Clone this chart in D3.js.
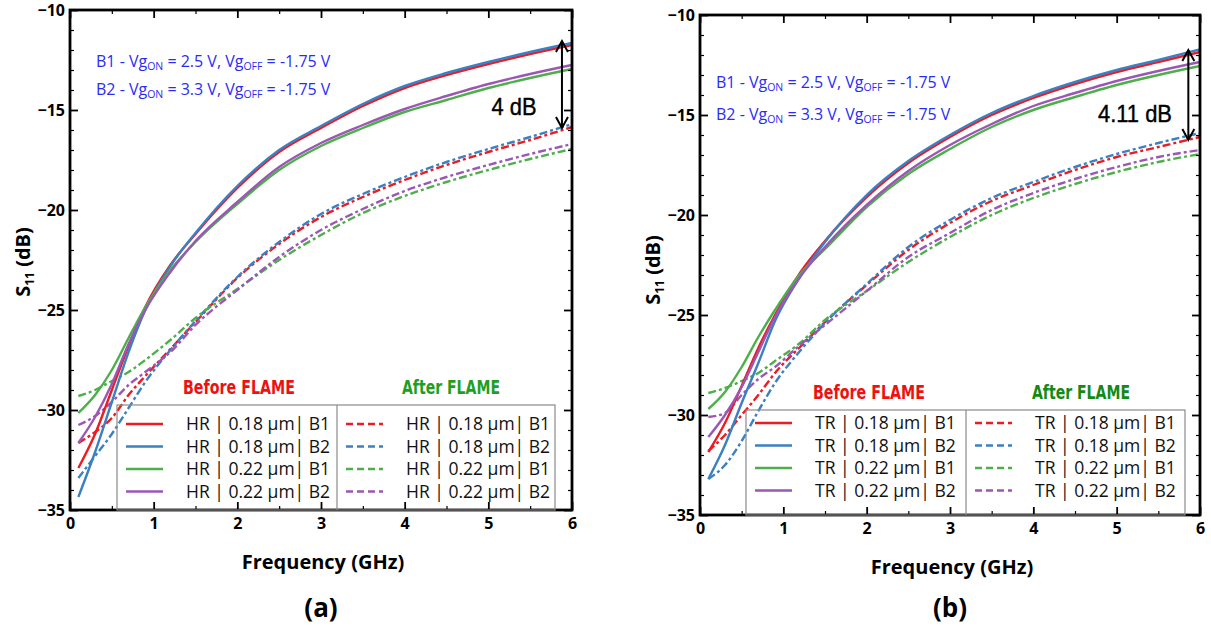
<!DOCTYPE html>
<html><head><meta charset="utf-8">
<script src="https://cdn.jsdelivr.net/npm/d3@7"></script>
<style>
html,body{margin:0;padding:0;background:#fff;}
svg{display:block;}
</style></head>
<body>
<svg id="chart" width="1211" height="628"></svg>
<script>
// ---------------- DATA ----------------
const FREQ_GHZ = [0.1, 0.3, 0.5, 0.7, 0.9, 1.2, 1.5, 2.0, 2.5, 3.0, 3.5, 4.0, 4.5, 5.0, 5.5, 6.0];
const X_TICKS = [0, 1, 2, 3, 4, 5, 6];
const Y_TICKS = [-35, -30, -25, -20, -15, -10];

const NAMES_A = ["HR | 0.18 µm| B1", "HR | 0.18 µm| B2", "HR | 0.22 µm| B1", "HR | 0.22 µm| B2"];
const NAMES_B = ["TR | 0.18 µm| B1", "TR | 0.18 µm| B2", "TR | 0.22 µm| B1", "TR | 0.22 µm| B2"];

// Panel (a) HR – before FLAME (solid)
const A_BEFORE_018_B1 = [-32.9, -31.2, -29.0, -26.8, -24.85, -22.75, -21.2, -18.9, -17.1, -15.9, -14.8, -13.9, -13.25, -12.7, -12.2, -11.75];
const A_BEFORE_018_B2 = [-34.35, -32.1, -29.6, -27.1, -25.0, -22.8, -21.15, -18.8, -17.0, -15.8, -14.7, -13.8, -13.15, -12.6, -12.1, -11.65];
const A_BEFORE_022_B1 = [-30.15, -29.25, -28.0, -26.4, -24.85, -23.0, -21.6, -19.7, -18.0, -16.8, -15.9, -15.1, -14.5, -13.9, -13.4, -12.95];
const A_BEFORE_022_B2 = [-31.65, -30.35, -28.7, -26.7, -25.0, -23.1, -21.55, -19.6, -17.85, -16.65, -15.75, -14.95, -14.3, -13.7, -13.2, -12.75];
// Panel (a) HR – after FLAME (dashed)
const A_AFTER_018_B1 = [-31.65, -31.1, -30.4, -29.25, -28.3, -26.95, -25.6, -23.4, -21.7, -20.35, -19.35, -18.5, -17.75, -17.1, -16.5, -15.85];
const A_AFTER_018_B2 = [-33.4, -32.3, -31.2, -29.9, -28.6, -27.0, -25.55, -23.35, -21.6, -20.2, -19.2, -18.35, -17.6, -16.95, -16.35, -15.7];
const A_AFTER_022_B1 = [-29.3, -29.0, -28.55, -28.1, -27.5, -26.5, -25.4, -23.95, -22.5, -21.25, -20.15, -19.3, -18.6, -18.0, -17.45, -16.95];
const A_AFTER_022_B2 = [-30.75, -30.3, -29.6, -28.75, -28.1, -27.1, -25.75, -24.0, -22.35, -21.0, -19.95, -19.05, -18.35, -17.75, -17.2, -16.7];

// Panel (b) TR – before FLAME (solid)
const B_BEFORE_018_B1 = [-31.85, -30.4, -28.55, -26.65, -25.0, -22.9, -21.3, -19.1, -17.4, -16.1, -15.0, -14.15, -13.45, -12.85, -12.35, -11.85];
const B_BEFORE_018_B2 = [-33.2, -31.5, -29.4, -27.4, -25.3, -23.1, -21.35, -19.0, -17.3, -16.0, -14.9, -14.05, -13.35, -12.75, -12.25, -11.72];
const B_BEFORE_022_B1 = [-29.7, -28.85, -27.6, -26.1, -24.75, -22.95, -21.7, -19.6, -17.95, -16.7, -15.6, -14.75, -14.1, -13.5, -13.0, -12.55];
const B_BEFORE_022_B2 = [-31.1, -30.0, -28.6, -26.85, -25.1, -23.1, -21.6, -19.5, -17.8, -16.5, -15.45, -14.55, -13.9, -13.3, -12.8, -12.35];
// Panel (b) TR – after FLAME (dashed)
const B_AFTER_018_B1 = [-31.8, -31.0, -30.0, -29.0, -27.9, -26.6, -25.35, -23.5, -21.75, -20.4, -19.3, -18.5, -17.75, -17.1, -16.6, -16.1];
const B_AFTER_018_B2 = [-33.2, -32.5, -31.3, -29.8, -28.4, -26.8, -25.4, -23.45, -21.6, -20.25, -19.15, -18.35, -17.6, -16.95, -16.4, -15.9];
const B_AFTER_022_B1 = [-28.9, -28.65, -28.3, -27.9, -27.3, -26.4, -25.25, -23.8, -22.35, -21.1, -20.0, -19.15, -18.45, -17.85, -17.35, -16.95];
const B_AFTER_022_B2 = [-30.1, -29.9, -29.0, -28.2, -27.6, -26.5, -25.5, -23.8, -22.1, -20.9, -19.75, -18.9, -18.2, -17.6, -17.1, -16.75];

const LEGEND_TITLES = ["Before FLAME", "After FLAME"];
const BIAS_B1 = ["B1 - Vg", "ON", " = 2.5 V, Vg", "OFF", " = -1.75 V"];
const BIAS_B2 = ["B2 - Vg", "ON", " = 3.3 V, Vg", "OFF", " = -1.75 V"];
const DIFF_LABELS = ["4 dB", "4.11 dB"];
const DIFF_RANGE_A = [-11.55, -15.9];   // arrow span (dB)
const DIFF_RANGE_B = [-11.75, -16.25];  // arrow span (dB)
const PANEL_LABELS = ["(a)", "(b)"];
const X_TITLE = "Frequency (GHz)";

// ---------------- STYLE ----------------
const COLORS = ["#ec1c24", "#3b80c2", "#4daf4a", "#9b57b4"];
const DASH = "8,3,3,3";
const FONT = "'Open Sans', Lato, sans-serif";

const svg = d3.select("#chart");

function drawPanel(p) {
  const x = d3.scaleLinear().domain([0, 6]).range([p.x0, p.x1]);
  const y = d3.scaleLinear().domain([-35, -10]).range([p.y1, p.y0]);
  const g = svg.append("g");

  const line = d3.line().x(d => x(d[0])).y(d => y(d[1])).curve(d3.curveMonotoneX);

  p.after.forEach((vals, i) => {
    g.append("path").datum(FREQ_GHZ.map((f, k) => [f, vals[k]]))
      .attr("d", line).attr("fill", "none").attr("stroke", COLORS[i])
      .attr("stroke-width", 2.4).attr("stroke-dasharray", DASH);
  });
  p.before.forEach((vals, i) => {
    g.append("path").datum(FREQ_GHZ.map((f, k) => [f, vals[k]]))
      .attr("d", line).attr("fill", "none").attr("stroke", COLORS[i])
      .attr("stroke-width", 2.4);
  });

  const yMinor = d3.range(-35, -9, 1).filter(v => v % 5 !== 0);
  const xMinor = d3.range(0.5, 6, 1);

  const tickStyle = sel => {
    sel.select(".domain").remove();
    sel.selectAll("line").attr("stroke", "#000").attr("stroke-width", 1.8);
  };
  const labelStyle = s => s.selectAll("text").attr("font-family", FONT).attr("font-weight", 700)
      .attr("font-size", 16).attr("fill", "#000");

  g.append("g").attr("transform", `translate(${p.x0},0)`)
    .call(d3.axisLeft(y).tickValues(Y_TICKS).tickSize(-8).tickPadding(5).tickFormat(d3.format("d")))
    .call(tickStyle).call(labelStyle);
  g.append("g").attr("transform", `translate(${p.x0},0)`)
    .call(d3.axisLeft(y).tickValues(yMinor).tickSize(-4).tickFormat(""))
    .call(tickStyle).call(s => s.selectAll("line").attr("stroke-width", 1.2));
  g.append("g").attr("transform", `translate(${p.x1},0)`)
    .call(d3.axisRight(y).tickValues(Y_TICKS).tickSize(-8).tickFormat(""))
    .call(tickStyle);
  g.append("g").attr("transform", `translate(${p.x1},0)`)
    .call(d3.axisRight(y).tickValues(yMinor).tickSize(-4).tickFormat(""))
    .call(tickStyle).call(s => s.selectAll("line").attr("stroke-width", 1.2));
  g.append("g").attr("transform", `translate(0,${p.y1})`)
    .call(d3.axisBottom(x).tickValues(X_TICKS).tickSize(-8).tickPadding(8).tickFormat(d3.format("d")))
    .call(tickStyle).call(labelStyle);
  g.append("g").attr("transform", `translate(0,${p.y1})`)
    .call(d3.axisBottom(x).tickValues(xMinor).tickSize(-4).tickFormat(""))
    .call(tickStyle).call(s => s.selectAll("line").attr("stroke-width", 1.2));
  g.append("g").attr("transform", `translate(0,${p.y0})`)
    .call(d3.axisTop(x).tickValues(X_TICKS).tickSize(-8).tickFormat(""))
    .call(tickStyle);
  g.append("g").attr("transform", `translate(0,${p.y0})`)
    .call(d3.axisTop(x).tickValues(xMinor).tickSize(-4).tickFormat(""))
    .call(tickStyle).call(s => s.selectAll("line").attr("stroke-width", 1.2));

  g.append("rect").attr("x", p.x0).attr("y", p.y0)
    .attr("width", p.x1 - p.x0).attr("height", p.y1 - p.y0)
    .attr("fill", "none").attr("stroke", "#000").attr("stroke-width", 2.8);

  g.append("text").attr("x", (p.x0 + p.x1) / 2 + 2).attr("y", p.y1 + 59)
    .attr("text-anchor", "middle").attr("font-family", FONT).attr("font-weight", 700)
    .attr("font-size", 20).attr("fill", "#000").text(X_TITLE);
  const yt = g.append("text")
    .attr("transform", `translate(${p.x0 - 40},${p.yLabelCy}) rotate(-90)`)
    .attr("text-anchor", "middle").attr("font-family", FONT).attr("font-weight", 700)
    .attr("font-size", 20).attr("fill", "#000");
  yt.append("tspan").text("S");
  yt.append("tspan").attr("font-size", 12).attr("dy", 4).text("11");
  yt.append("tspan").attr("dy", -4).text(" (dB)");

  g.append("text").attr("x", (p.x0 + p.x1) / 2).attr("y", 617)
    .attr("text-anchor", "middle").attr("font-family", FONT).attr("font-weight", 700)
    .attr("font-size", 26).attr("fill", "#000").text(p.panelLabel);

  [BIAS_B1, BIAS_B2].forEach((parts, r) => {
    const t = g.append("text").attr("x", p.noteX).attr("y", p.noteY[r])
      .attr("font-family", FONT).attr("font-size", 16).attr("fill", "#2b2bf5");
    parts.forEach((s, k) => {
      const ts = t.append("tspan").text(s);
      if (k % 2 === 1) ts.attr("font-size", 10.5).attr("dy", 3);
      else if (k > 0) ts.attr("dy", -3);
    });
  });

  const ax = x(p.arrowF), yA = y(p.diffRange[0]), yB = y(p.diffRange[1]);
  g.append("line").attr("x1", ax).attr("x2", ax).attr("y1", yA).attr("y2", yB)
    .attr("stroke", "#000").attr("stroke-width", 2);
  g.append("polyline").attr("points", `${ax - 6},${yA + 11} ${ax},${yA} ${ax + 6},${yA + 11}`)
    .attr("fill", "none").attr("stroke", "#000").attr("stroke-width", 2);
  g.append("polyline").attr("points", `${ax - 6},${yB - 11} ${ax},${yB} ${ax + 6},${yB - 11}`)
    .attr("fill", "none").attr("stroke", "#000").attr("stroke-width", 2);
  g.append("text").attr("x", p.diffX).attr("y", p.diffY).attr("text-anchor", "middle")
    .attr("font-family", "'Liberation Sans Narrow', 'Liberation Sans', sans-serif")
    .attr("font-size", 24).attr("fill", "#000").attr("stroke", "#000").attr("stroke-width", 0.4)
    .attr("textLength", p.diffW).attr("lengthAdjust", "spacingAndGlyphs")
    .text(p.diffLabel);

  const L = p.legend;
  g.append("rect").attr("x", L.left).attr("y", L.top)
    .attr("width", L.right - L.left).attr("height", L.bottom - L.top)
    .attr("fill", "none").attr("stroke", "#8a8a8a").attr("stroke-width", 1.2);
  g.append("line").attr("x1", L.div).attr("x2", L.div).attr("y1", L.top).attr("y2", L.bottom)
    .attr("stroke", "#8a8a8a").attr("stroke-width", 1.2);
  const cols = [{x: L.left, dash: null}, {x: L.div, dash: "7,4"}];
  cols.forEach(c => {
    p.names.forEach((nm, i) => {
      const yy = L.top + L.row0 + i * L.rowStep;
      const ln = g.append("line").attr("x1", c.x + 9).attr("x2", c.x + 46)
        .attr("y1", yy).attr("y2", yy).attr("stroke", COLORS[i]).attr("stroke-width", 2.6);
      if (c.dash) ln.attr("stroke-dasharray", c.dash);
      g.append("text").attr("x", c.x + 69).attr("y", yy).attr("dy", "0.36em")
        .attr("font-family", FONT).attr("font-size", 17.5).attr("fill", "#111").text(nm);
    });
  });
  const titleFont = "'DejaVu Sans Condensed', 'DejaVu Sans', sans-serif";
  g.append("text").attr("x", p.x0 + 169).attr("y", p.y0 + 377).attr("dy", "0.36em")
    .attr("text-anchor", "middle").attr("font-family", titleFont).attr("font-stretch", "condensed")
    .attr("font-weight", 700).attr("font-size", 19).attr("fill", "#ee1111")
    .attr("textLength", 112).attr("lengthAdjust", "spacingAndGlyphs").text(LEGEND_TITLES[0]);
  g.append("text").attr("x", p.x0 + 381).attr("y", p.y0 + 377).attr("dy", "0.36em")
    .attr("text-anchor", "middle").attr("font-family", titleFont).attr("font-stretch", "condensed")
    .attr("font-weight", 700).attr("font-size", 19).attr("fill", p.afterColor)
    .attr("textLength", 98).attr("lengthAdjust", "spacingAndGlyphs").text(LEGEND_TITLES[1]);
}

drawPanel({
  x0: 70, x1: 572, y0: 10, y1: 510, yLabelCy: 262,
  before: [A_BEFORE_018_B1, A_BEFORE_018_B2, A_BEFORE_022_B1, A_BEFORE_022_B2],
  after: [A_AFTER_018_B1, A_AFTER_018_B2, A_AFTER_022_B1, A_AFTER_022_B2],
  names: NAMES_A, panelLabel: PANEL_LABELS[0],
  noteX: 96, noteY: [67, 95],
  arrowF: 5.88, diffRange: DIFF_RANGE_A, diffX: 514, diffY: 115, diffW: 45, diffLabel: DIFF_LABELS[0],
  legend: {left: 117, top: 405, div: 337, right: 555, bottom: 510, row0: 19, rowStep: 22.5},
  afterColor: "#1ea01e"
});
drawPanel({
  x0: 700, x1: 1200, y0: 15, y1: 515, yLabelCy: 270,
  before: [B_BEFORE_018_B1, B_BEFORE_018_B2, B_BEFORE_022_B1, B_BEFORE_022_B2],
  after: [B_AFTER_018_B1, B_AFTER_018_B2, B_AFTER_022_B1, B_AFTER_022_B2],
  names: NAMES_B, panelLabel: PANEL_LABELS[1],
  noteX: 716, noteY: [88, 120],
  arrowF: 5.86, diffRange: DIFF_RANGE_B, diffX: 1135, diffY: 122, diffW: 74, diffLabel: DIFF_LABELS[1],
  legend: {left: 746, top: 410, div: 966, right: 1185, bottom: 515, row0: 13, rowStep: 22.5},
  afterColor: "#148a14"
});
</script>
</body></html>
